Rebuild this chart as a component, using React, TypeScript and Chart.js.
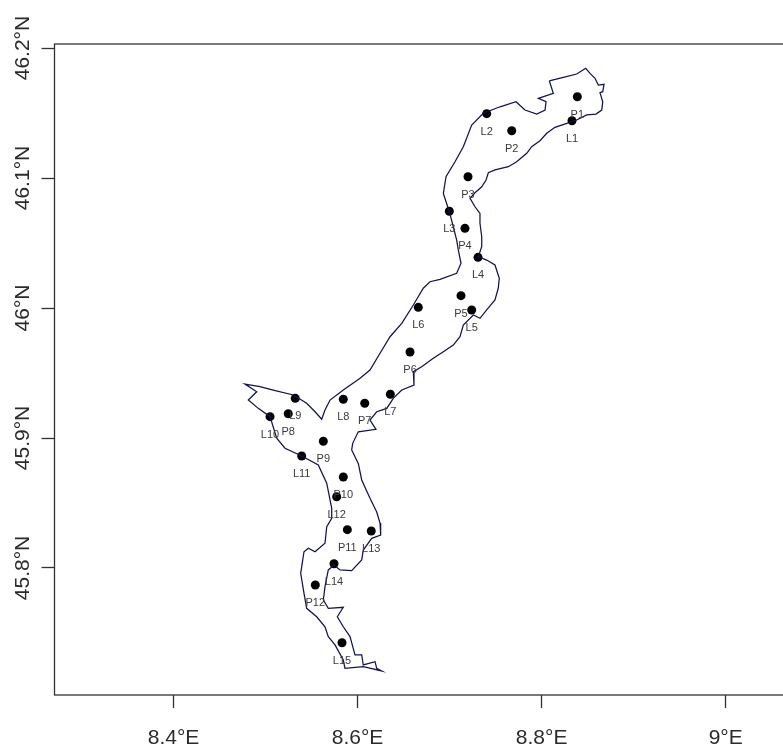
import React, { useEffect, useRef } from "react";
import { Chart, registerables } from "chart.js";

Chart.register(...registerables);

const shoreLon = [
  8.8083, 8.8236, 8.8381, 8.8479, 8.8526, 8.858, 8.8616, 8.8678, 8.8664, 8.8634, 8.8664, 8.8653, 8.8591, 8.849, 8.8381, 8.8273,
  8.8145, 8.8055, 8.7982, 8.7892, 8.7838, 8.7729, 8.7638, 8.7493, 8.7421, 8.7396, 8.7349, 8.7276, 8.7222, 8.7276, 8.733, 8.733,
  8.7349, 8.7349, 8.7312, 8.7403, 8.7493, 8.754, 8.7529, 8.7493, 8.7403, 8.733, 8.7258, 8.7149, 8.7113, 8.704, 8.6932, 8.6823,
  8.6697, 8.6606, 8.6613, 8.648, 8.6388, 8.6317, 8.6208, 8.6135, 8.62, 8.6008, 8.5947, 8.5936, 8.6008, 8.6045, 8.6135, 8.6208,
  8.6244, 8.6251, 8.6154, 8.6062, 8.6045, 8.5936, 8.5809, 8.5744, 8.5682, 8.5646, 8.5628, 8.5682, 8.5845, 8.578, 8.5845, 8.5918,
  8.5972, 8.6045, 8.6062, 8.619, 8.6208, 8.6262, 8.6062, 8.5863, 8.5845, 8.5755, 8.5682, 8.5646, 8.5556, 8.5447, 8.5418, 8.5382,
  8.5418, 8.5465, 8.5538, 8.5646, 8.5665, 8.5719, 8.5719, 8.5665, 8.5573, 8.5393, 8.5212, 8.5121, 8.5049, 8.4921, 8.4813, 8.4904,
  8.4777, 8.494, 8.5084, 8.5302, 8.5447, 8.5538, 8.561, 8.5646, 8.5701, 8.5845, 8.6027, 8.6135, 8.6244, 8.6353, 8.648, 8.6606,
  8.6714, 8.6787, 8.6896, 8.7077, 8.7124, 8.7095, 8.7077, 8.704, 8.6997, 8.6932, 8.6961, 8.7059, 8.7149, 8.724, 8.7366, 8.7548,
  8.7722, 8.7819, 8.7947, 8.8037, 8.8048, 8.7964, 8.8127, 8.8083,
];

const shoreLat = [
  46.1748, 46.1775, 46.18, 46.1844, 46.1805, 46.1767, 46.1715, 46.1721, 46.1664, 46.1656, 46.1587, 46.1523, 46.1492, 46.1485, 46.1446, 46.1421,
  46.139, 46.1344, 46.1287, 46.1241, 46.119, 46.1125, 46.1087, 46.1062, 46.1041, 46.0985, 46.0933, 46.0887, 46.0844, 46.0779, 46.0728, 46.0652,
  46.0548, 46.0472, 46.0395, 46.0369, 46.0331, 46.0228, 46.0152, 46.0062, 45.9985, 45.9921, 45.9946, 45.9869, 45.9779, 45.9715, 45.9664, 45.9613,
  45.9548, 45.951, 45.9408, 45.9369, 45.9305, 45.9228, 45.9202, 45.9138, 45.9067, 45.9048, 45.8959, 45.8908, 45.8805, 45.8677, 45.8536, 45.8431,
  45.8346, 45.8254, 45.8228, 45.8138, 45.8062, 45.7979, 45.7985, 45.8023, 45.7985, 45.7856, 45.7754, 45.769, 45.7698, 45.7625, 45.7548, 45.7472,
  45.7331, 45.7331, 45.7254, 45.7279, 45.7228, 45.7208, 45.7241, 45.7228, 45.7292, 45.7408, 45.7472, 45.7548, 45.7625, 45.769, 45.7805, 45.7959,
  45.8125, 45.8152, 45.8125, 45.819, 45.8318, 45.8382, 45.8459, 45.8652, 45.8792, 45.8862, 45.8921, 45.8998, 45.9164, 45.9228, 45.9292, 45.9356,
  45.9415, 45.9395, 45.9369, 45.9331, 45.9267, 45.9202, 45.9144, 45.9215, 45.9292, 45.9369, 45.9459, 45.9523, 45.9652, 45.9779, 45.9882, 46.0023,
  46.0152, 46.0202, 46.0221, 46.0267, 46.0344, 46.0446, 46.0523, 46.0625, 46.0741, 46.0882, 46.101, 46.1125, 46.1241, 46.1408, 46.1498, 46.1548,
  46.1587, 46.1523, 46.1492, 46.1523, 46.1587, 46.1613, 46.1652, 46.1748,
];

const siteNames = [
  "L1", "P1", "L2", "P2", "P3", "L3", "P4", "L4", "P5", "L5", "L6", "P6", "L7", "P7",
  "L8", "L9", "P8", "L10", "P9", "L11", "P10", "L12", "P11", "L13", "L14", "P12", "L15",
];
const siteLon = [
  8.833, 8.8388, 8.7403, 8.7675, 8.72, 8.6997, 8.7167, 8.7309, 8.7124, 8.724, 8.666, 8.657, 8.6356, 8.6078,
  8.5845, 8.5323, 8.5247, 8.5049, 8.5628, 8.5393, 8.5845, 8.5773, 8.5889, 8.6149, 8.5744, 8.5541, 8.5831,
];
const siteLat = [
  46.1441, 46.1625, 46.1495, 46.1364, 46.101, 46.0744, 46.0613, 46.039, 46.0095, 45.9985, 46.0005, 45.9662, 45.9337, 45.9267,
  45.9298, 45.9305, 45.9187, 45.9164, 45.8975, 45.8862, 45.87, 45.8548, 45.8295, 45.8285, 45.8033, 45.7869, 45.7425,
];

const lonTicks = [8.4, 8.6, 8.8, 9];
const lonTickLabels = ["8.4°E", "8.6°E", "8.8°E", "9°E"];
const latTicks = [45.8, 45.9, 46, 46.1, 46.2];
const latTickLabels = ["45.8°N", "45.9°N", "46°N", "46.1°N", "46.2°N"];

const FONT = "'Liberation Sans', Arial, sans-serif";
const INK = "#2b2b2b";

const mapFurniture = {
  id: "mapFurniture",
  afterDatasetsDraw(chart: any) {
    const { ctx, chartArea } = chart;
    ctx.save();
    ctx.strokeStyle = "#333333";
    ctx.lineWidth = 1.3;
    ctx.strokeRect(chartArea.left, chartArea.top, chartArea.right - chartArea.left, chartArea.bottom - chartArea.top);
    const pts = chart.getDatasetMeta(1).data;
    ctx.fillStyle = "#3a3a3a";
    ctx.font = `11px ${FONT}`;
    ctx.textAlign = "center";
    ctx.textBaseline = "middle";
    pts.forEach((p: any, i: number) => ctx.fillText(siteNames[i], p.x, p.y + 18));
    ctx.restore();
  },
};

export default function App() {
  const ref = useRef<HTMLCanvasElement>(null);
  useEffect(() => {
    const chart = new Chart(ref.current as HTMLCanvasElement, {
      type: "scatter",
      data: {
        datasets: [
          {
            label: "Shoreline",
            data: shoreLon.map((x, i) => ({ x, y: shoreLat[i] })),
            showLine: true,
            borderColor: "#12124e",
            borderWidth: 1.25,
            pointRadius: 0,
            tension: 0,
          },
          {
            label: "Sites",
            data: siteLon.map((x, i) => ({ x, y: siteLat[i] })),
            showLine: false,
            pointRadius: 4.5,
            pointBackgroundColor: "#000000",
            pointBorderWidth: 0,
          },
        ],
      },
      options: {
        responsive: false,
        animation: false,
        layout: { padding: { top: 44, right: 5, left: 0, bottom: 0 } },
        plugins: { legend: { display: false }, tooltip: { enabled: false } },
        scales: {
          x: {
            type: "linear",
            min: 8.2707,
            max: 9.0753,
            afterBuildTicks: (s: any) => {
              s.ticks = lonTicks.map((value) => ({ value }));
            },
            afterFit: (s: any) => {
              s.height = 54;
            },
            border: { display: false },
            grid: { drawOnChartArea: false, drawTicks: true, tickLength: 13, tickColor: "#333333", tickWidth: 1.3 },
            ticks: {
              autoSkip: false,
              maxRotation: 0,
              padding: 18,
              color: INK,
              font: { family: FONT, size: 21 },
              callback: (v: any) => lonTickLabels[lonTicks.indexOf(Number(v))],
            },
          },
          y: {
            type: "linear",
            min: 45.7023,
            max: 46.2031,
            afterBuildTicks: (s: any) => {
              s.ticks = latTicks.map((value) => ({ value }));
            },
            afterFit: (s: any) => {
              s.width = 54.5;
            },
            border: { display: false },
            grid: { drawOnChartArea: false, drawTicks: true, tickLength: 13, tickColor: "#333333", tickWidth: 1.3 },
            ticks: {
              autoSkip: false,
              minRotation: 90,
              maxRotation: 90,
              crossAlign: "center",
              padding: -14,
              color: INK,
              font: { family: FONT, size: 21 },
              callback: (v: any) => latTickLabels[latTicks.indexOf(Number(v))],
            },
          },
        },
      },
      plugins: [mapFurniture],
    } as any);
    return () => chart.destroy();
  }, []);
  return (
    <div style={{ position: "fixed", left: 0, top: 0, width: 783, height: 749, overflow: "hidden", background: "#fff" }}>
      <canvas ref={ref} width={800} height={749} style={{ display: "block" }} />
    </div>
  );
}
